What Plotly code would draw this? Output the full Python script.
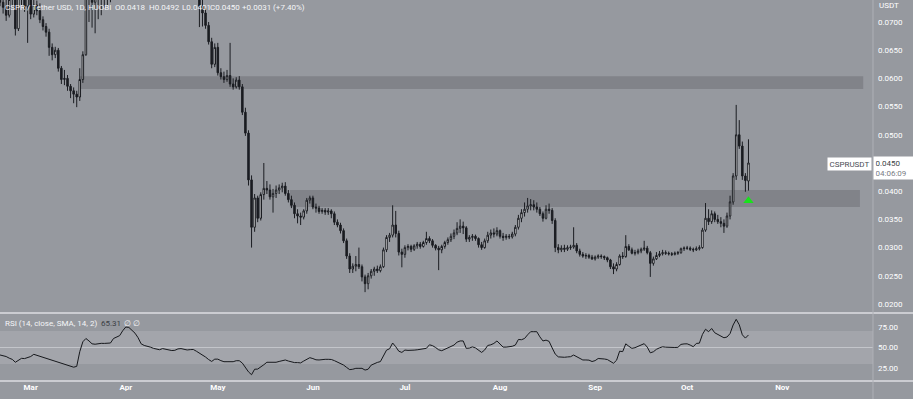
import plotly.graph_objects as go
import pandas as pd

# ---------------- data ----------------
start_date = "2022-02-19"

opens = [
    .0752, .0735, .0726, .0712, .0740, .0745, .0688, .0742, .0750, .0728,
    .0745, .0714, .0730, .0720, .0704, .0692, .0682, .0655, .0642, .0650,
    .0618, .0598, .0600, .0586, .0578, .0572, .0567, .0598, .0642, .0765,
    .0760, .0735, .0742, .0748, .0752, .0750, .0755, .0760, .0795, .0805,
    .0815, .0850, .0875, .0870, .0855, .0840, .0818, .0785, .0780, .0778,
    .0773, .0768, .0760, .0758, .0765, .0762, .0755, .0752, .0754, .0762,
    .0765, .0760, .0756, .0758, .0759, .0748, .0728, .0716, .0694, .0665,
    .0625, .0655, .0610, .0603, .0598, .0605, .0590, .0585, .0597, .0585,
    .0540, .0503, .0420, .0336, .0388, .0352, .0394, .0405, .0402, .0390,
    .0396, .0402, .0406, .0409, .0396, .0385, .0375, .0360, .0356, .0354,
    .0365, .0384, .0388, .0372, .0370, .0364, .0366, .0363, .0365, .0360,
    .0345, .0340, .0330, .0312, .0285, .0262, .0267, .0270, .0266, .0248,
    .0236, .0250, .0258, .0262, .0259, .0266, .0296, .0318, .0322, .0340,
    .0325, .0292, .0288, .0300, .0302, .0297, .0303, .0306, .0302, .0309,
    .0316, .0312, .0304, .0299, .0296, .0302, .0309, .0314, .0320, .0326,
    .0334, .0338, .0335, .0315, .0318, .0320, .0316, .0305, .0300, .0312,
    .0322, .0326, .0324, .0330, .0320, .0318, .0320, .0319, .0324, .0336,
    .0352, .0362, .0368, .0374, .0376, .0372, .0368, .0360, .0352, .0368,
    .0366, .0348, .0300, .0296, .0299, .0297, .0300, .0301, .0304, .0294,
    .0288, .0285, .0286, .0283, .0280, .0283, .0285, .0284, .0282, .0278,
    .0266, .0262, .0270, .0285, .0284, .0302, .0296, .0290, .0291, .0294,
    .0297, .0299, .0291, .0272, .0280, .0286, .0289, .0291, .0290, .0289,
    .0288, .0290, .0291, .0298, .0299, .0299, .0297, .0296, .0298, .0300,
    .0331, .0352, .0346, .0360, .0350, .0346, .0343, .0338, .0356, .0381,
    .0427, .0500, .0480, .0427, .0418,
]
highs = [
    .0770, .0750, .0740, .0748, .0760, .0752, .0750, .0765, .0758, .0760,
    .0768, .0740, .0738, .0733, .0710, .0698, .0688, .0662, .0656, .0654,
    .0622, .0615, .0606, .0590, .0584, .0578, .0618, .0648, .0790, .0790,
    .0775, .0760, .0765, .0770, .0775, .0772, .0780, .0810, .0820, .0830,
    .0860, .0890, .0895, .0880, .0865, .0850, .0822, .0800, .0795, .0790,
    .0785, .0778, .0775, .0775, .0772, .0770, .0765, .0765, .0772, .0775,
    .0772, .0770, .0768, .0768, .0765, .0755, .0740, .0724, .0700, .0672,
    .0662, .0663, .0618, .0612, .0615, .0663, .0600, .0602, .0604, .0590,
    .0548, .0508, .0428, .0395, .0392, .0398, .0450, .0418, .0412, .0404,
    .0410, .0412, .0415, .0416, .0402, .0392, .0380, .0368, .0362, .0368,
    .0388, .0392, .0392, .0378, .0374, .0370, .0370, .0370, .0368, .0364,
    .0350, .0344, .0334, .0316, .0290, .0272, .0285, .0300, .0270, .0252,
    .0255, .0262, .0266, .0268, .0270, .0300, .0322, .0326, .0375, .0365,
    .0330, .0298, .0304, .0306, .0305, .0306, .0310, .0310, .0312, .0328,
    .0320, .0315, .0306, .0303, .0305, .0312, .0318, .0325, .0332, .0345,
    .0350, .0346, .0338, .0322, .0324, .0323, .0318, .0310, .0316, .0328,
    .0332, .0334, .0336, .0332, .0326, .0324, .0324, .0328, .0340, .0358,
    .0368, .0380, .0388, .0386, .0384, .0380, .0372, .0364, .0375, .0378,
    .0370, .0352, .0306, .0304, .0305, .0304, .0305, .0336, .0308, .0298,
    .0292, .0290, .0289, .0287, .0286, .0288, .0288, .0286, .0284, .0280,
    .0272, .0274, .0288, .0292, .0322, .0306, .0300, .0296, .0298, .0300,
    .0312, .0303, .0294, .0284, .0292, .0294, .0296, .0295, .0293, .0292,
    .0293, .0294, .0300, .0302, .0303, .0302, .0300, .0302, .0304, .0335,
    .0379, .0368, .0366, .0364, .0358, .0354, .0350, .0362, .0392, .0432,
    .0553, .0526, .0488, .0432, .0492,
]
lows = [
    .0728, .0715, .0702, .0708, .0728, .0676, .0684, .0730, .0718, .0663,
    .0705, .0708, .0712, .0698, .0685, .0674, .0640, .0632, .0636, .0612,
    .0590, .0588, .0578, .0565, .0556, .0549, .0560, .0592, .0640, .0700,
    .0690, .0680, .0705, .0712, .0725, .0730, .0735, .0750, .0775, .0790,
    .0800, .0835, .0855, .0845, .0830, .0810, .0775, .0770, .0765, .0765,
    .0760, .0750, .0752, .0750, .0752, .0748, .0745, .0745, .0748, .0755,
    .0752, .0748, .0748, .0750, .0740, .0691, .0692, .0688, .0660, .0618,
    .0620, .0605, .0598, .0592, .0594, .0585, .0580, .0582, .0580, .0535,
    .0498, .0410, .0300, .0328, .0345, .0348, .0385, .0395, .0385, .0362,
    .0388, .0395, .0398, .0392, .0380, .0370, .0352, .0343, .0340, .0350,
    .0360, .0378, .0368, .0362, .0360, .0360, .0358, .0358, .0352, .0340,
    .0336, .0325, .0308, .0280, .0255, .0255, .0258, .0262, .0240, .0221,
    .0226, .0245, .0250, .0255, .0256, .0264, .0292, .0310, .0318, .0318,
    .0286, .0265, .0282, .0295, .0292, .0294, .0298, .0298, .0300, .0305,
    .0308, .0300, .0295, .0260, .0290, .0298, .0305, .0310, .0315, .0322,
    .0326, .0324, .0310, .0310, .0312, .0312, .0300, .0296, .0298, .0308,
    .0316, .0318, .0320, .0316, .0312, .0314, .0315, .0316, .0320, .0332,
    .0345, .0355, .0362, .0366, .0366, .0362, .0356, .0346, .0350, .0360,
    .0342, .0292, .0290, .0292, .0292, .0294, .0296, .0298, .0290, .0284,
    .0282, .0280, .0280, .0278, .0277, .0280, .0280, .0278, .0274, .0262,
    .0253, .0258, .0268, .0280, .0282, .0294, .0288, .0286, .0288, .0290,
    .0294, .0288, .0248, .0268, .0278, .0283, .0286, .0287, .0286, .0285,
    .0286, .0287, .0289, .0294, .0296, .0294, .0292, .0294, .0295, .0298,
    .0328, .0340, .0342, .0345, .0342, .0336, .0326, .0335, .0350, .0376,
    .0420, .0475, .0420, .0399, .0401,
]
closes = [
    .0735, .0726, .0712, .0740, .0745, .0688, .0742, .0750, .0728, .0745,
    .0714, .0730, .0720, .0704, .0692, .0682, .0655, .0642, .0650, .0618,
    .0598, .0600, .0586, .0578, .0572, .0567, .0598, .0642, .0765, .0760,
    .0735, .0742, .0748, .0752, .0750, .0755, .0760, .0795, .0805, .0815,
    .0850, .0875, .0870, .0855, .0840, .0818, .0785, .0780, .0778, .0773,
    .0768, .0760, .0758, .0765, .0762, .0755, .0752, .0754, .0762, .0765,
    .0760, .0756, .0758, .0759, .0748, .0728, .0716, .0694, .0665, .0625,
    .0655, .0610, .0603, .0598, .0605, .0590, .0585, .0597, .0585, .0540,
    .0503, .0420, .0336, .0388, .0352, .0394, .0405, .0402, .0390, .0396,
    .0402, .0406, .0409, .0396, .0385, .0375, .0360, .0356, .0354, .0365,
    .0384, .0388, .0372, .0370, .0364, .0366, .0363, .0365, .0360, .0345,
    .0340, .0330, .0312, .0285, .0262, .0267, .0270, .0266, .0248, .0236,
    .0250, .0258, .0262, .0259, .0266, .0296, .0318, .0322, .0340, .0325,
    .0292, .0288, .0300, .0302, .0297, .0303, .0306, .0302, .0309, .0316,
    .0312, .0304, .0299, .0296, .0302, .0309, .0314, .0320, .0326, .0334,
    .0338, .0335, .0315, .0318, .0320, .0316, .0305, .0300, .0312, .0322,
    .0326, .0324, .0330, .0320, .0318, .0320, .0319, .0324, .0336, .0352,
    .0362, .0368, .0374, .0376, .0372, .0368, .0360, .0352, .0368, .0366,
    .0348, .0300, .0296, .0299, .0297, .0300, .0301, .0304, .0294, .0288,
    .0285, .0286, .0283, .0280, .0283, .0285, .0284, .0282, .0278, .0266,
    .0262, .0270, .0285, .0284, .0302, .0296, .0290, .0291, .0294, .0297,
    .0299, .0291, .0272, .0280, .0286, .0289, .0291, .0290, .0289, .0288,
    .0290, .0291, .0298, .0299, .0299, .0297, .0296, .0298, .0300, .0331,
    .0352, .0346, .0360, .0350, .0346, .0343, .0338, .0356, .0381, .0427,
    .0500, .0480, .0427, .0419, .0450,
]
rsi_values = [
    40.9, 40.0, 39.0, 37.0, 35.5, 32.0, 34.0, 36.8, 36.5, 38.0,
    39.0, 41.7, 40.5, 39.0, 38.0, 36.5, 35.0, 34.0, 32.5, 31.3,
    30.5, 29.5, 28.5, 27.0, 26.0, 27.0, 45.0, 57.0, 61.0, 58.0,
    54.5, 54.0, 54.8, 55.1, 55.0, 55.1, 55.5, 61.0, 62.5, 64.5,
    70.5, 75.0, 74.5, 71.0, 67.5, 62.0, 54.5, 52.5, 51.8, 50.5,
    49.0, 47.7, 47.3, 48.7, 48.0, 46.7, 46.3, 46.6, 48.3, 48.7,
    47.8, 47.0, 47.4, 47.6, 45.5, 43.4, 41.4, 38.4, 35.3, 33.0,
    35.8, 35.8, 34.0, 32.7, 32.7, 32.7, 32.7, 33.9, 33.9, 31.0,
    25.0, 20.3, 16.8, 23.5, 23.7, 26.0, 29.0, 32.0, 32.0, 32.0,
    32.0, 33.0, 34.0, 34.8, 33.5, 32.2, 31.6, 31.6, 31.2, 33.5,
    36.0, 37.6, 36.5, 35.0, 34.8, 35.4, 35.6, 35.6, 35.4, 34.0,
    32.2, 30.4, 28.6, 25.7, 23.0, 23.5, 24.6, 24.6, 24.6, 22.5,
    23.5, 28.5, 30.5, 31.8, 32.8, 40.0, 46.8, 48.5, 55.5, 51.0,
    45.5, 44.0, 46.9, 46.5, 46.3, 46.8, 47.2, 47.7, 48.3, 49.0,
    53.3, 52.3, 50.0, 47.2, 46.1, 47.8, 49.8, 51.5, 53.0, 56.5,
    58.0, 58.0, 49.0, 49.3, 50.8, 49.5, 47.0, 44.0, 47.0, 52.5,
    53.3, 55.0, 58.0, 54.0, 50.5, 50.5, 50.9, 51.5, 53.0, 59.8,
    59.5, 61.0, 65.5, 69.3, 69.3, 69.3, 63.0, 58.0, 59.0, 57.5,
    49.5, 42.0, 38.6, 38.2, 38.1, 38.5, 38.8, 40.8, 38.9, 36.5,
    34.8, 34.8, 34.6, 32.9, 34.0, 36.6, 36.6, 36.0, 35.3, 33.0,
    30.8, 34.5, 45.5, 45.0, 54.5, 51.5, 49.0, 49.8, 51.5, 53.4,
    54.7, 50.5, 43.5, 44.8, 47.8, 49.6, 50.9, 50.4, 50.0, 49.8,
    50.0, 50.2, 53.8, 54.4, 54.5, 53.0, 51.0, 55.0, 55.3, 66.0,
    72.3, 69.3, 73.2, 68.0, 66.2, 64.5, 61.9, 62.8, 67.0, 77.5,
    84.4, 77.8, 65.5, 61.5, 65.31,
]

month_ticks = ["2022-03-01", "2022-04-01", "2022-05-01", "2022-06-01", "2022-07-01",
               "2022-08-01", "2022-09-01", "2022-10-01", "2022-11-01"]
month_labels = ["Mar", "Apr", "May", "Jun", "Jul", "Aug", "Sep", "Oct", "Nov"]
# 0.0450 is hidden behind the last-price box in the reference
price_ticks = [0.0200, 0.0250, 0.0300, 0.0350, 0.0400, 0.0500, 0.0550, 0.0600, 0.0650, 0.0700]
rsi_ticks = [25, 50, 75]

band_starts = ["2022-03-17 00:00", "2022-05-24 12:00"]
band_ends = ["2022-11-27 10:00", "2022-11-26 08:00"]
band_lows = [0.0581, 0.0372]
band_highs = [0.0604, 0.0402]

signal_date = "2022-10-21"
signal_price = 0.0383

last_price_text = "0.0450"
countdown_text = "04:06:09"

dates = pd.date_range(start_date, periods=len(closes), freq="D")

# ---------------- geometry ----------------
W, H = 913, 399
ML, MR, MT, MB = 0, 40, 0, 18
PW, PH = W - ML - MR, H - MT - MB
SPLIT = 1 - 313 / PH


def px(xp):
    return xp / PW


def py(yp):
    return 1 - yp / PH


BG = "#96999f"
BAND = "#818389"
RSI_BAND = "#a3a5ab"
TXT = "#ffffff"
FONT = "Roboto"
DARK = "#1b1d22"

fig = go.Figure()

fig.add_trace(go.Candlestick(
    x=dates, open=opens, high=highs, low=lows, close=closes,
    increasing=dict(fillcolor="#ffffff", line=dict(color=DARK, width=1)),
    decreasing=dict(fillcolor=DARK, line=dict(color=DARK, width=1)),
    whiskerwidth=0, xaxis="x", yaxis="y", hoverinfo="skip", showlegend=False,
))

fig.add_trace(go.Scatter(
    x=[signal_date], y=[signal_price], mode="markers",
    marker=dict(symbol="triangle-up", size=9, color="#19e11c"),
    xaxis="x", yaxis="y", hoverinfo="skip", showlegend=False,
))

fig.add_trace(go.Scatter(
    x=dates, y=rsi_values, mode="lines",
    line=dict(color="#16181c", width=1),
    xaxis="x", yaxis="y2", hoverinfo="skip", showlegend=False,
))

shapes = []
for s, e, lo, hi in zip(band_starts, band_ends, band_lows, band_highs):
    shapes.append(dict(type="rect", xref="x", yref="y", x0=s, x1=e, y0=lo, y1=hi,
                       fillcolor=BAND, line=dict(width=0), layer="below"))
# RSI 30-70 band and mid line
shapes.append(dict(type="rect", xref="paper", yref="y2", x0=0, x1=1, y0=30, y1=70,
                   fillcolor=RSI_BAND, line=dict(width=0), layer="below"))
shapes.append(dict(type="line", xref="paper", yref="y2", x0=0, x1=1, y0=50, y1=50,
                   line=dict(color="#c3c5ca", width=1), layer="below"))
# separators
shapes.append(dict(type="line", xref="paper", yref="paper", x0=0, x1=W / PW,
                   y0=SPLIT, y1=SPLIT, line=dict(color="#dcdee2", width=1.5)))
shapes.append(dict(type="line", xref="paper", yref="paper", x0=0, x1=W / PW,
                   y0=0, y1=0, line=dict(color="#dcdee2", width=1.5)))
shapes.append(dict(type="line", xref="paper", yref="paper", x0=1, x1=1,
                   y0=-MB / PH, y1=1, line=dict(color="#aeb0b6", width=1)))

ann = []


def text(x, y, t, size=8, color=TXT, xanchor="left", **kw):
    ann.append(dict(x=px(x), y=py(y), xref="paper", yref="paper", text=t, showarrow=False,
                    xanchor=xanchor, yanchor="middle",
                    font=dict(family=FONT, size=size, color=color), **kw))


legend_color = "#f4f5f7"
text(3, 7, "CSPR / Tether USD, 1D, HUOBI", color=legend_color)
text(113, 7, "O" + f"{opens[-1]:.4f}", color=legend_color)
text(147, 7, "H" + f"{highs[-1]:.4f}", color=legend_color)
text(180, 7, "L" + f"{lows[-1]:.4f}", color=legend_color)
text(208, 7, "C" + f"{closes[-1]:.4f}", color=legend_color)
chg = closes[-1] - closes[-2]
text(240, 7, f"+{chg:.4f} (+{chg / closes[-2] * 100:.2f}%)", color=legend_color)

text(3, 323, "RSI (14, close, SMA, 14, 2)", color=legend_color)
text(99, 323, f"{rsi_values[-1]:.2f}", color="#3b3e45")
text(122, 323, "∅", color=legend_color)
text(131, 323, "∅", color=legend_color)

text(877, 5, "USDT", color=TXT)

ann.append(dict(x=px(872), y=py(164), xref="paper", yref="paper", text="CSPRUSDT",
                showarrow=False, xanchor="right", yanchor="middle", bgcolor="#ffffff",
                borderpad=1.5, font=dict(family=FONT, size=8, color="#4a4d55")))
ann.append(dict(x=px(873), y=py(168), xref="paper", yref="paper",
                text=(f"<span style='color:#3c3f46'>{last_price_text}</span><br>"
                      f"<span style='color:#7a7d85'>{countdown_text}</span>"),
                showarrow=False, xanchor="left", yanchor="middle", align="left",
                bgcolor="#ffffff", borderpad=1.5, width=36,
                font=dict(family=FONT, size=8, color="#3c3f46")))

fig.update_layout(
    width=W, height=H,
    margin=dict(l=ML, r=MR, t=MT, b=MB, pad=0),
    paper_bgcolor=BG, plot_bgcolor=BG,
    showlegend=False, hovermode=False,
    shapes=shapes, annotations=ann,
    xaxis=dict(
        type="date", anchor="y2",
        range=["2022-02-18 23:45", "2022-11-30 14:24"],
        tickvals=month_ticks, ticktext=month_labels,
        tickfont=dict(family=FONT, size=8, color=TXT, weight="bold"),
        showgrid=False, zeroline=False, showline=False, ticks="",
        rangeslider=dict(visible=False), fixedrange=True,
    ),
    yaxis=dict(
        domain=[SPLIT, 1], side="right", anchor="x",
        range=[0.01840, 0.07390],
        tickvals=price_ticks, tickformat=".4f",
        tickfont=dict(family=FONT, size=8, color=TXT),
        showgrid=False, zeroline=False, showline=False, ticks="",
        ticklabelstandoff=4,
    ),
    yaxis2=dict(
        domain=[0, SPLIT], side="right", anchor="x",
        range=[9.15, 92.1],
        tickvals=rsi_ticks, ticktext=[f"{v:.2f}" for v in rsi_ticks],
        tickfont=dict(family=FONT, size=8, color=TXT),
        showgrid=False, zeroline=False, showline=False, ticks="",
        ticklabelstandoff=4,
    ),
)

fig.write_html("out.html", config={"displayModeBar": False, "staticPlot": True})
